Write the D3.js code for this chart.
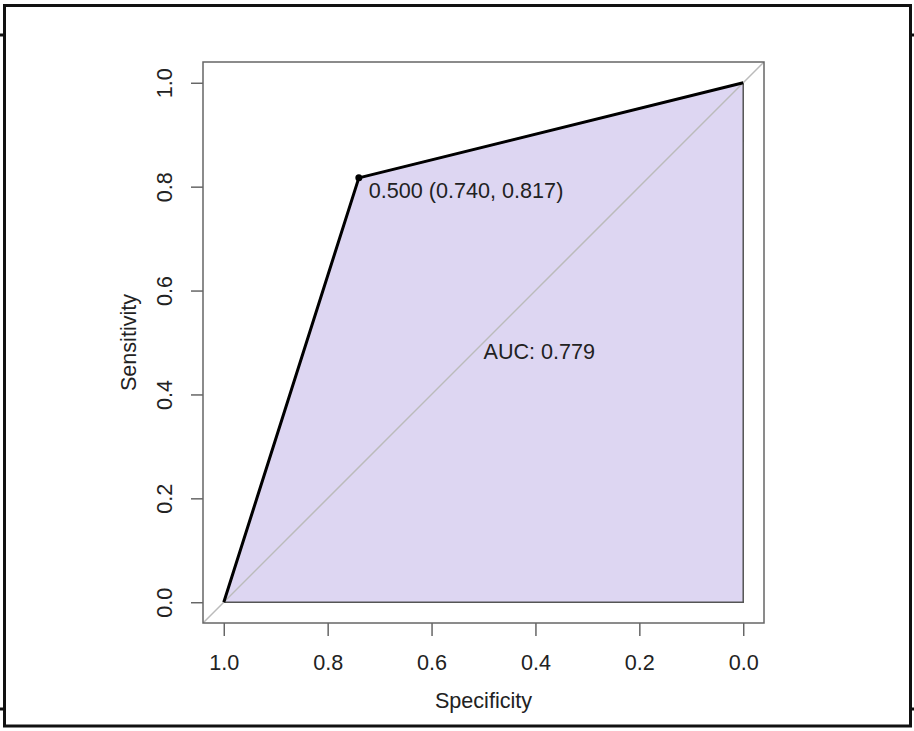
<!DOCTYPE html>
<html>
<head>
<meta charset="utf-8">
<script src="https://cdn.jsdelivr.net/npm/d3@7"></script>
<style>
  body { margin: 0; background: #fff; }
  text { font-family: "Liberation Sans", Arial, sans-serif; fill: #222; }
</style>
</head>
<body>
<div id="chart"></div>
<script>
// roc curve points (specificity, sensitivity)
var specificity = [1.0, 0.740, 0.0];
var sensitivity = [0.0, 0.817, 1.0];
var bestThreshold = 0.500;
var bestIndex = 1;
var aucValue = 0.779;
var tickValues = [0.0, 0.2, 0.4, 0.6, 0.8, 1.0];

var svgWidth = 914;
var svgHeight = 731;
var fontSize = "21.6px";

var box = { left: 203, right: 764, top: 62, bottom: 623 };

var svg = d3.select("#chart")
  .append("svg")
  .attr("width", svgWidth)
  .attr("height", svgHeight);

// outer frame of the screenshot
svg.append("rect")
  .attr("x", 4.5)
  .attr("y", 5.5)
  .attr("width", 906)
  .attr("height", 720.5)
  .attr("fill", "none")
  .attr("stroke", "#111")
  .attr("stroke-width", 3);

[[0, 35, 4, 35], [0, 709, 4, 709], [911, 35, 914, 35], [911, 709, 914, 709]].forEach(function(l) {
  svg.append("line")
    .attr("x1", l[0]).attr("y1", l[1]).attr("x2", l[2]).attr("y2", l[3])
    .attr("stroke", "#111")
    .attr("stroke-width", 3);
});

// R style 4% padding on both axes
var xScale = d3.scaleLinear()
  .domain([1.04, -0.04])
  .range([box.left, box.right]);

var yScale = d3.scaleLinear()
  .domain([-0.04, 1.04])
  .range([box.bottom, box.top]);

svg.append("clipPath")
  .attr("id", "plotclip")
  .append("rect")
  .attr("x", box.left)
  .attr("y", box.top)
  .attr("width", box.right - box.left)
  .attr("height", box.bottom - box.top);

// auc polygon
var polyPoints = specificity.map(function(s, i) { return [s, sensitivity[i]]; });
polyPoints.push([0, 0]);

svg.append("path")
  .attr("d", d3.line().x(d => xScale(d[0])).y(d => yScale(d[1]))(polyPoints) + "Z")
  .attr("fill", "#ddd6f2")
  .attr("stroke", "#555")
  .attr("stroke-width", 1.5);

// identity line
svg.append("line")
  .attr("clip-path", "url(#plotclip)")
  .attr("x1", xScale(1.04))
  .attr("y1", yScale(-0.04))
  .attr("x2", xScale(-0.04))
  .attr("y2", yScale(1.04))
  .attr("stroke", "#bbb")
  .attr("stroke-width", 1.5);

// roc curve
svg.append("path")
  .datum(specificity.map(function(s, i) { return [s, sensitivity[i]]; }))
  .attr("d", d3.line().x(d => xScale(d[0])).y(d => yScale(d[1])))
  .attr("fill", "none")
  .attr("stroke", "#000")
  .attr("stroke-width", 3)
  .attr("stroke-linejoin", "round");

// plot box
svg.append("rect")
  .attr("x", box.left)
  .attr("y", box.top)
  .attr("width", box.right - box.left)
  .attr("height", box.bottom - box.top)
  .attr("fill", "none")
  .attr("stroke", "#666")
  .attr("stroke-width", 1.5);

// axes
var bottomAxis = d3.axisBottom(xScale)
  .tickValues(tickValues)
  .tickSize(13)
  .tickFormat(d3.format(".1f"));

var leftAxis = d3.axisLeft(yScale)
  .tickValues(tickValues)
  .tickSize(12)
  .tickFormat(d3.format(".1f"));

var xAxisG = svg.append("g")
  .attr("transform", `translate(0, ${box.bottom})`)
  .call(bottomAxis);

var yAxisG = svg.append("g")
  .attr("transform", `translate(${box.left}, 0)`)
  .call(leftAxis);

[xAxisG, yAxisG].forEach(function(g) {
  g.select(".domain").remove();
  g.selectAll("line").attr("stroke", "#666").attr("stroke-width", 1.5);
  g.selectAll("text")
    .attr("fill", "#222")
    .style("font-size", fontSize)
    .style("font-family", '"Liberation Sans", Arial, sans-serif');
});

// rotate y tick labels like R's las=0
yAxisG.selectAll(".tick text")
  .attr("x", null)
  .attr("dy", null)
  .attr("text-anchor", "middle")
  .attr("transform", "translate(-31, 0) rotate(-90)");

xAxisG.selectAll(".tick text").attr("dy", "0.71em").attr("y", 32);

// axis titles
svg.append("text")
  .attr("x", (xScale(1) + xScale(0)) / 2)
  .attr("y", 708)
  .attr("text-anchor", "middle")
  .style("font-size", fontSize)
  .text("Specificity");

svg.append("text")
  .attr("transform", `translate(136, ${(yScale(0) + yScale(1)) / 2}) rotate(-90)`)
  .attr("text-anchor", "middle")
  .style("font-size", fontSize)
  .text("Sensitivity");

// best threshold point and label
var bx = xScale(specificity[bestIndex]);
var by = yScale(sensitivity[bestIndex]);

svg.append("circle")
  .attr("cx", bx)
  .attr("cy", by)
  .attr("r", 3.5)
  .attr("fill", "#000");

svg.append("text")
  .attr("x", bx + 10)
  .attr("y", by + 20)
  .style("font-size", fontSize)
  .text(`${bestThreshold.toFixed(3)} (${specificity[bestIndex].toFixed(3)}, ${sensitivity[bestIndex].toFixed(3)})`);

svg.append("text")
  .attr("x", xScale(0.5))
  .attr("y", yScale(0.5) + 16)
  .style("font-size", fontSize)
  .text(`AUC: ${aucValue.toFixed(3)}`);
</script>
</body>
</html>
